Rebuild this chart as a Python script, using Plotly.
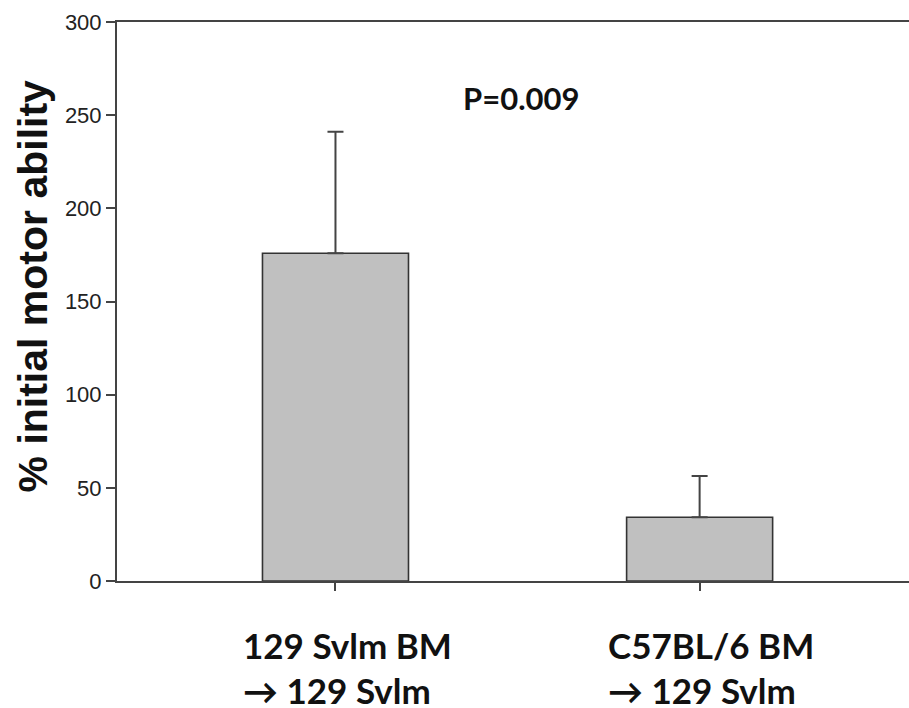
import plotly.graph_objects as go

# Data
categories = [0, 1]
label_line1 = ["129 Svlm BM", "C57BL/6 BM"]
label_line2 = ["\u2192 129 Svlm", "\u2192 129 Svlm"]
means = [175.9, 34.2]
err_plus = [65.2, 22.2]
y_ticks = [0, 50, 100, 150, 200, 250, 300]
p_text = "P=0.009"
y_title = "% initial motor ability"

AX = "#444444"

fig = go.Figure()
fig.add_trace(go.Bar(
    x=categories, y=means, width=0.401,
    marker=dict(color="#c0c0c0", line=dict(color="#333333", width=1.6)),
    error_y=dict(type="data", array=err_plus, arrayminus=[0, 0], symmetric=False,
                 thickness=2, width=8, color=AX),
    showlegend=False,
))

fig.update_layout(
    width=909, height=708,
    margin=dict(l=117, r=0, t=22, b=127),
    plot_bgcolor="white", paper_bgcolor="white",
    xaxis=dict(range=[-0.600, 1.575], tickvals=categories, showticklabels=False,
               ticks="outside", ticklen=8, tickwidth=2, tickcolor=AX,
               showline=True, linecolor=AX, linewidth=2, mirror=True,
               showgrid=False, zeroline=False),
    yaxis=dict(range=[0, 300], tickvals=y_ticks, ticks="outside", ticklen=9,
               tickwidth=2, tickcolor=AX, showline=True, linecolor=AX, linewidth=2,
               showgrid=False, zeroline=False,
               tickfont=dict(family="Liberation Sans, Arial", size=22, color="#222222")),
)

label_font = dict(family="Lato", size=35, color="#111111", weight="bold")
for c, l1, l2 in zip(categories, label_line1, label_line2):
    fig.add_annotation(x=c, y=-0.1145, xref="x", yref="paper", text=l1, xshift=-94,
                       showarrow=False, xanchor="left", yanchor="middle", font=label_font)
    fig.add_annotation(x=c, y=-0.195, xref="x", yref="paper", text=l2, xshift=-94,
                       showarrow=False, xanchor="left", yanchor="middle", font=label_font)

fig.add_annotation(x=0.509, y=259, xref="x", yref="y", text=p_text, showarrow=False,
                   xanchor="center", yanchor="middle",
                   font=dict(family="Lato", size=31, color="#111111", weight="bold"))

fig.add_annotation(x=-0.106, y=0.527, xref="paper", yref="paper", text=y_title,
                   textangle=-90, showarrow=False, xanchor="center", yanchor="middle",
                   font=dict(family="Liberation Sans, Arial", size=41, color="#111111",
                             weight="bold"))

fig.write_html("out.html", config={"displayModeBar": False})

# remove the default page margin so the figure sits at the window's top-left corner
with open("out.html", "r", encoding="utf-8") as f:
    html = f.read()
html = html.replace("<body>", '<body style="margin:0;padding:0;overflow:hidden">', 1)
with open("out.html", "w", encoding="utf-8") as f:
    f.write(html)
